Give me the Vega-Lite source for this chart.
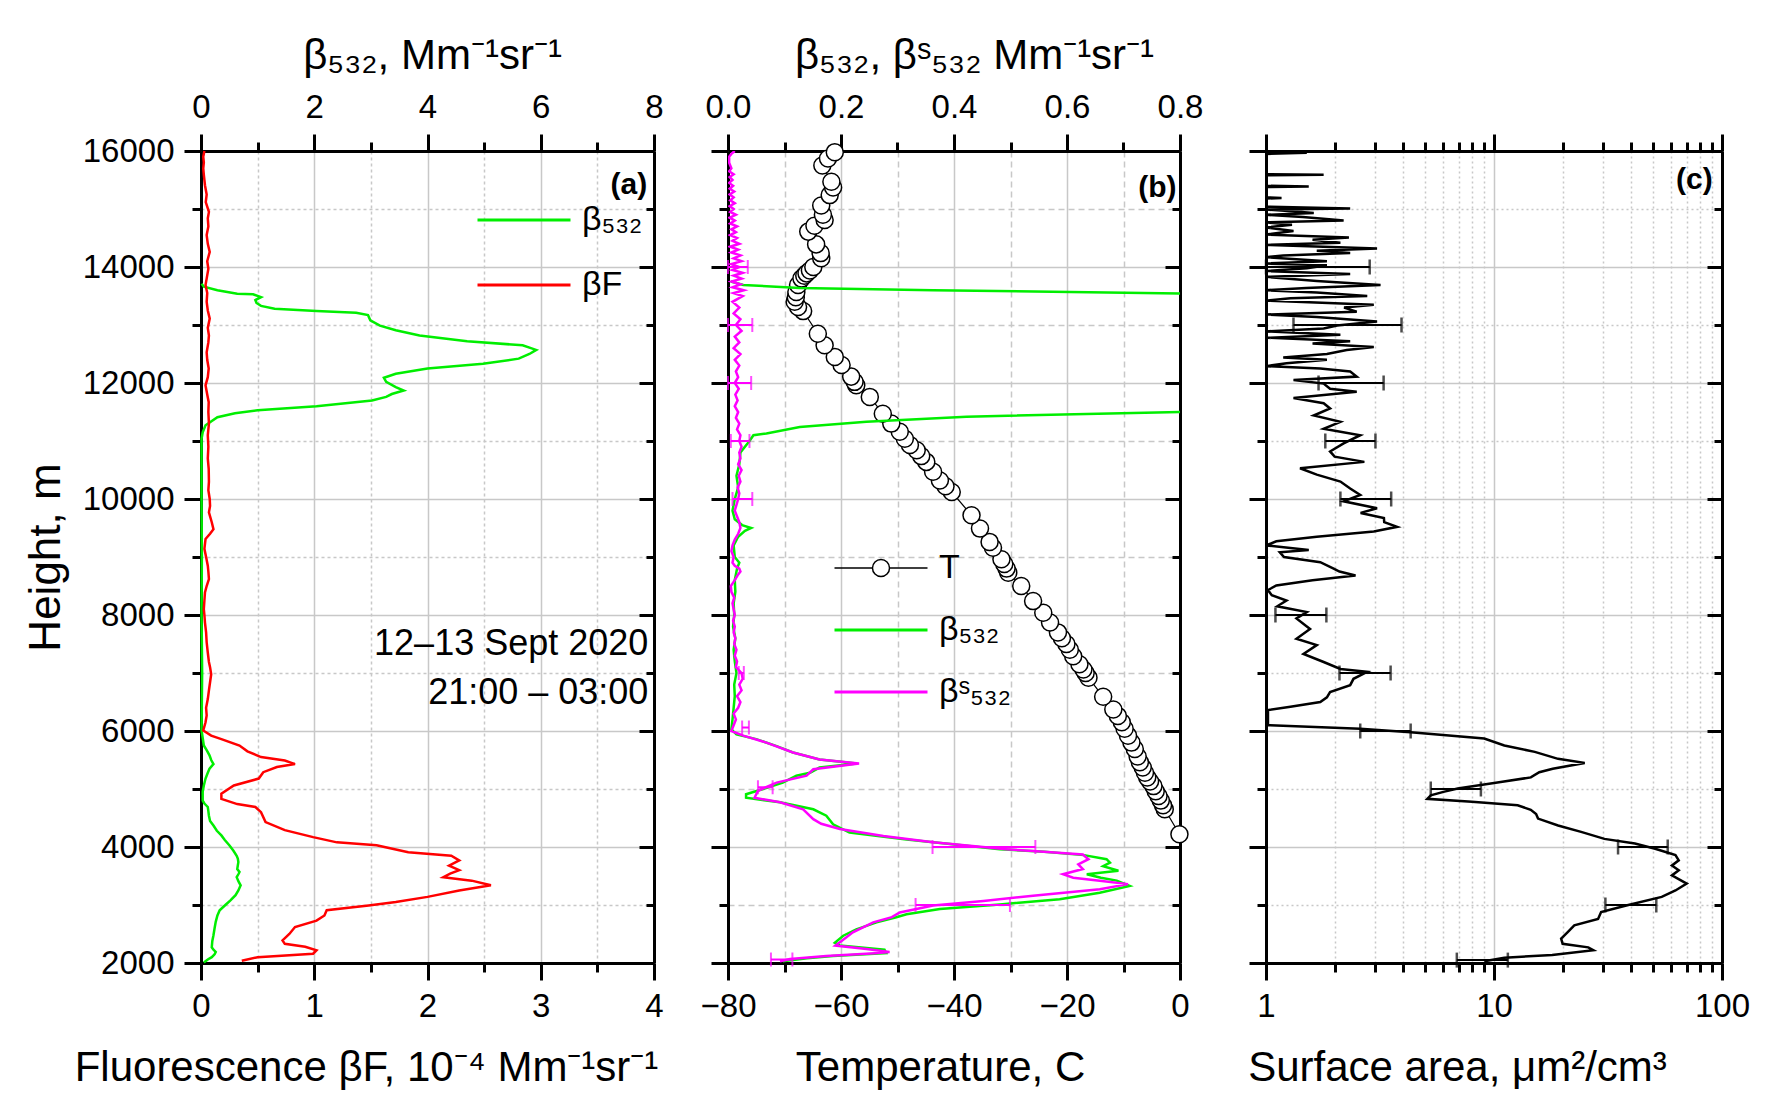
{
  "$schema": "https://vega.github.io/schema/vega-lite/v6.json",
  "background": "white",
  "padding": {"left": 24, "top": 34, "right": 10, "bottom": 5},
  "config": {
    "font": "Liberation Sans",
    "view": {"stroke": null},
    "axis": {
      "domainColor": "black", "domainWidth": 3, "tickColor": "black", "tickWidth": 3,
      "labelFont": "Liberation Sans", "labelFontSize": 33, "labelColor": "black",
      "labelFlush": false, "labelOverlap": false, "labelPadding": 10,
      "titleFont": "Liberation Sans", "titleFontSize": 42, "titleFontWeight": "normal", "titleColor": "black",
      "gridColor": "#c8c8c8", "gridWidth": 1.5
    },
    "legend": {"labelFont": "Liberation Sans", "labelFontSize": 34, "labelColor": "black"}
  },
  "datasets": {
    "a_green": [
      {"h": 2010, "v": 0.05}, {"h": 2060, "v": 0.12}, {"h": 2100, "v": 0.19}, {"h": 2150, "v": 0.24}, {"h": 2190, "v": 0.26},
      {"h": 2230, "v": 0.22}, {"h": 2270, "v": 0.19}, {"h": 2380, "v": 0.2}, {"h": 2480, "v": 0.22}, {"h": 2600, "v": 0.24},
      {"h": 2710, "v": 0.26}, {"h": 2820, "v": 0.29}, {"h": 2910, "v": 0.33}, {"h": 3000, "v": 0.43}, {"h": 3080, "v": 0.52},
      {"h": 3170, "v": 0.61}, {"h": 3250, "v": 0.66}, {"h": 3340, "v": 0.7}, {"h": 3410, "v": 0.66}, {"h": 3480, "v": 0.63},
      {"h": 3530, "v": 0.66}, {"h": 3570, "v": 0.68}, {"h": 3620, "v": 0.64}, {"h": 3680, "v": 0.65}, {"h": 3740, "v": 0.66},
      {"h": 3800, "v": 0.65}, {"h": 3850, "v": 0.63}, {"h": 3940, "v": 0.57}, {"h": 4030, "v": 0.5}, {"h": 4120, "v": 0.42},
      {"h": 4200, "v": 0.36}, {"h": 4280, "v": 0.28}, {"h": 4370, "v": 0.22}, {"h": 4450, "v": 0.16}, {"h": 4540, "v": 0.14},
      {"h": 4620, "v": 0.13}, {"h": 4690, "v": 0.12}, {"h": 4750, "v": 0.06}, {"h": 4800, "v": 0.03}, {"h": 4950, "v": 0.03},
      {"h": 5060, "v": 0.05}, {"h": 5180, "v": 0.08}, {"h": 5280, "v": 0.12}, {"h": 5350, "v": 0.15}, {"h": 5430, "v": 0.22},
      {"h": 5500, "v": 0.18}, {"h": 5580, "v": 0.15}, {"h": 5670, "v": 0.1}, {"h": 5750, "v": 0.05}, {"h": 5880, "v": 0.03},
      {"h": 6010, "v": 0.01}, {"h": 7000, "v": 0.02}, {"h": 8000, "v": 0.01}, {"h": 9000, "v": 0.015}, {"h": 10000, "v": 0.01},
      {"h": 11040, "v": 0.01}, {"h": 11150, "v": 0.03}, {"h": 11270, "v": 0.08}, {"h": 11410, "v": 0.29}, {"h": 11480, "v": 0.6},
      {"h": 11530, "v": 1.0}, {"h": 11600, "v": 2.04}, {"h": 11700, "v": 3.02}, {"h": 11760, "v": 3.27}, {"h": 11810, "v": 3.37},
      {"h": 11870, "v": 3.58}, {"h": 11930, "v": 3.44}, {"h": 12020, "v": 3.27}, {"h": 12090, "v": 3.23}, {"h": 12160, "v": 3.44},
      {"h": 12250, "v": 4.0}, {"h": 12330, "v": 4.98}, {"h": 12420, "v": 5.61}, {"h": 12500, "v": 5.8}, {"h": 12570, "v": 5.92},
      {"h": 12650, "v": 5.68}, {"h": 12720, "v": 4.7}, {"h": 12820, "v": 3.86}, {"h": 12910, "v": 3.44}, {"h": 12990, "v": 3.16},
      {"h": 13080, "v": 2.99}, {"h": 13170, "v": 2.95}, {"h": 13210, "v": 2.74}, {"h": 13240, "v": 2.04}, {"h": 13280, "v": 1.3},
      {"h": 13330, "v": 1.06}, {"h": 13380, "v": 0.98}, {"h": 13430, "v": 0.96}, {"h": 13480, "v": 1.06}, {"h": 13530, "v": 0.92},
      {"h": 13540, "v": 0.64}, {"h": 13600, "v": 0.29}, {"h": 13660, "v": 0.05}, {"h": 13710, "v": 0.01}
    ],
    "a_red": [
      {"h": 2040, "v": 0.36}, {"h": 2100, "v": 0.5}, {"h": 2160, "v": 0.99}, {"h": 2220, "v": 1.02}, {"h": 2280, "v": 0.92},
      {"h": 2330, "v": 0.74}, {"h": 2390, "v": 0.72}, {"h": 2500, "v": 0.78}, {"h": 2620, "v": 0.83}, {"h": 2730, "v": 1.02},
      {"h": 2820, "v": 1.09}, {"h": 2910, "v": 1.11}, {"h": 2990, "v": 1.48}, {"h": 3050, "v": 1.72}, {"h": 3140, "v": 2.0},
      {"h": 3250, "v": 2.28}, {"h": 3340, "v": 2.56}, {"h": 3420, "v": 2.39}, {"h": 3480, "v": 2.14}, {"h": 3540, "v": 2.2},
      {"h": 3600, "v": 2.28}, {"h": 3680, "v": 2.19}, {"h": 3770, "v": 2.28}, {"h": 3850, "v": 2.21}, {"h": 3910, "v": 1.83},
      {"h": 4000, "v": 1.62}, {"h": 4030, "v": 1.55}, {"h": 4080, "v": 1.2}, {"h": 4170, "v": 0.99}, {"h": 4290, "v": 0.74},
      {"h": 4430, "v": 0.57}, {"h": 4600, "v": 0.53}, {"h": 4690, "v": 0.48}, {"h": 4740, "v": 0.32}, {"h": 4830, "v": 0.18},
      {"h": 4920, "v": 0.18}, {"h": 5060, "v": 0.29}, {"h": 5180, "v": 0.51}, {"h": 5290, "v": 0.55}, {"h": 5380, "v": 0.67},
      {"h": 5430, "v": 0.83}, {"h": 5490, "v": 0.74}, {"h": 5550, "v": 0.53}, {"h": 5650, "v": 0.41}, {"h": 5750, "v": 0.34},
      {"h": 5860, "v": 0.18}, {"h": 5920, "v": 0.09}, {"h": 6010, "v": 0.02}, {"h": 6150, "v": 0.04}, {"h": 6270, "v": 0.05},
      {"h": 6400, "v": 0.045}, {"h": 6550, "v": 0.06}, {"h": 6700, "v": 0.07}, {"h": 6840, "v": 0.08}, {"h": 6980, "v": 0.09},
      {"h": 7100, "v": 0.08}, {"h": 7190, "v": 0.07}, {"h": 7350, "v": 0.06}, {"h": 7530, "v": 0.05}, {"h": 7700, "v": 0.045},
      {"h": 7870, "v": 0.035}, {"h": 8000, "v": 0.03}, {"h": 8100, "v": 0.025}, {"h": 8250, "v": 0.03}, {"h": 8390, "v": 0.035},
      {"h": 8500, "v": 0.05}, {"h": 8620, "v": 0.07}, {"h": 8750, "v": 0.065}, {"h": 8850, "v": 0.06}, {"h": 9000, "v": 0.045},
      {"h": 9140, "v": 0.03}, {"h": 9310, "v": 0.04}, {"h": 9400, "v": 0.08}, {"h": 9480, "v": 0.11}, {"h": 9600, "v": 0.095},
      {"h": 9770, "v": 0.07}, {"h": 9880, "v": 0.08}, {"h": 10000, "v": 0.077}, {"h": 10150, "v": 0.065}, {"h": 10300, "v": 0.07},
      {"h": 10520, "v": 0.068}, {"h": 10700, "v": 0.06}, {"h": 10900, "v": 0.065}, {"h": 11100, "v": 0.06}, {"h": 11300, "v": 0.07},
      {"h": 11500, "v": 0.065}, {"h": 11670, "v": 0.068}, {"h": 11800, "v": 0.055}, {"h": 11960, "v": 0.04}, {"h": 12100, "v": 0.06},
      {"h": 12250, "v": 0.068}, {"h": 12400, "v": 0.055}, {"h": 12530, "v": 0.05}, {"h": 12700, "v": 0.065}, {"h": 12820, "v": 0.07},
      {"h": 12950, "v": 0.06}, {"h": 13110, "v": 0.077}, {"h": 13250, "v": 0.06}, {"h": 13400, "v": 0.05}, {"h": 13550, "v": 0.055},
      {"h": 13690, "v": 0.04}, {"h": 13800, "v": 0.05}, {"h": 13970, "v": 0.065}, {"h": 14100, "v": 0.055}, {"h": 14260, "v": 0.077},
      {"h": 14400, "v": 0.06}, {"h": 14550, "v": 0.05}, {"h": 14700, "v": 0.065}, {"h": 14840, "v": 0.06}, {"h": 14950, "v": 0.07},
      {"h": 15120, "v": 0.042}, {"h": 15250, "v": 0.05}, {"h": 15410, "v": 0.035}, {"h": 15500, "v": 0.03}, {"h": 15590, "v": 0.025},
      {"h": 15700, "v": 0.02}, {"h": 15800, "v": 0.025}, {"h": 15900, "v": 0.02}, {"h": 16000, "v": 0.03}
    ],
    "b_T": [
      {"h": 4220, "v": -0.1}, {"h": 4650, "v": -2.7}, {"h": 4720, "v": -3.0}, {"h": 4800, "v": -3.4}, {"h": 4880, "v": -3.8},
      {"h": 4960, "v": -4.3}, {"h": 5050, "v": -4.7}, {"h": 5130, "v": -5.3}, {"h": 5200, "v": -5.8}, {"h": 5280, "v": -6.2},
      {"h": 5370, "v": -6.6}, {"h": 5460, "v": -7.1}, {"h": 5560, "v": -7.5}, {"h": 5690, "v": -8.0}, {"h": 5800, "v": -8.6},
      {"h": 5920, "v": -9.2}, {"h": 6040, "v": -9.8}, {"h": 6150, "v": -10.3}, {"h": 6260, "v": -11.0}, {"h": 6370, "v": -11.8},
      {"h": 6590, "v": -13.6}, {"h": 6920, "v": -16.2}, {"h": 7000, "v": -16.7}, {"h": 7060, "v": -17.1}, {"h": 7150, "v": -17.8},
      {"h": 7290, "v": -18.9}, {"h": 7400, "v": -19.5}, {"h": 7500, "v": -20.1}, {"h": 7600, "v": -20.9}, {"h": 7700, "v": -21.6},
      {"h": 7870, "v": -23.0}, {"h": 8040, "v": -24.2}, {"h": 8240, "v": -26.0}, {"h": 8500, "v": -28.1}, {"h": 8730, "v": -30.4},
      {"h": 8800, "v": -30.7}, {"h": 8880, "v": -31.1}, {"h": 8960, "v": -31.6}, {"h": 9160, "v": -33.1}, {"h": 9260, "v": -33.7},
      {"h": 9490, "v": -35.4}, {"h": 9720, "v": -36.9}, {"h": 10120, "v": -40.4}, {"h": 10220, "v": -41.5}, {"h": 10320, "v": -42.5},
      {"h": 10470, "v": -43.7}, {"h": 10640, "v": -44.9}, {"h": 10740, "v": -45.8}, {"h": 10840, "v": -46.6}, {"h": 10930, "v": -47.8},
      {"h": 11040, "v": -48.7}, {"h": 11160, "v": -49.6}, {"h": 11300, "v": -51.1}, {"h": 11470, "v": -52.6}, {"h": 11760, "v": -54.9},
      {"h": 11960, "v": -57.3}, {"h": 12020, "v": -57.6}, {"h": 12110, "v": -58.2}, {"h": 12310, "v": -59.9}, {"h": 12450, "v": -61.1},
      {"h": 12650, "v": -62.9}, {"h": 12850, "v": -64.1}, {"h": 13240, "v": -66.7}, {"h": 13310, "v": -67.6}, {"h": 13400, "v": -68.2},
      {"h": 13480, "v": -68.0}, {"h": 13570, "v": -67.9}, {"h": 13690, "v": -67.6}, {"h": 13800, "v": -67.0}, {"h": 13850, "v": -66.5},
      {"h": 13890, "v": -66.1}, {"h": 13940, "v": -65.5}, {"h": 14000, "v": -64.9}, {"h": 14150, "v": -63.5}, {"h": 14240, "v": -63.6},
      {"h": 14390, "v": -64.4}, {"h": 14610, "v": -65.8}, {"h": 14710, "v": -64.7}, {"h": 14810, "v": -62.9}, {"h": 14900, "v": -63.2},
      {"h": 15060, "v": -63.5}, {"h": 15240, "v": -62.0}, {"h": 15370, "v": -61.4}, {"h": 15470, "v": -61.7}, {"h": 15750, "v": -63.3},
      {"h": 15870, "v": -62.3}, {"h": 15980, "v": -61.1}
    ],
    "b_green": [
      {"h": 2030, "v": 0.097}, {"h": 2080, "v": 0.14}, {"h": 2120, "v": 0.186}, {"h": 2170, "v": 0.28}, {"h": 2230, "v": 0.277},
      {"h": 2300, "v": 0.198}, {"h": 2350, "v": 0.189}, {"h": 2470, "v": 0.204}, {"h": 2580, "v": 0.227}, {"h": 2700, "v": 0.263},
      {"h": 2790, "v": 0.298}, {"h": 2840, "v": 0.316}, {"h": 2930, "v": 0.375}, {"h": 3010, "v": 0.481}, {"h": 3100, "v": 0.587},
      {"h": 3210, "v": 0.658}, {"h": 3330, "v": 0.711}, {"h": 3420, "v": 0.688}, {"h": 3470, "v": 0.66}, {"h": 3530, "v": 0.635},
      {"h": 3590, "v": 0.691}, {"h": 3670, "v": 0.664}, {"h": 3730, "v": 0.676}, {"h": 3790, "v": 0.67}, {"h": 3860, "v": 0.63},
      {"h": 3920, "v": 0.56}, {"h": 3960, "v": 0.481}, {"h": 4050, "v": 0.393}, {"h": 4130, "v": 0.316}, {"h": 4250, "v": 0.215},
      {"h": 4390, "v": 0.186}, {"h": 4540, "v": 0.174}, {"h": 4650, "v": 0.151}, {"h": 4770, "v": 0.092}, {"h": 4850, "v": 0.032},
      {"h": 4910, "v": 0.032}, {"h": 5000, "v": 0.062}, {"h": 5110, "v": 0.097}, {"h": 5230, "v": 0.121}, {"h": 5280, "v": 0.145},
      {"h": 5370, "v": 0.162}, {"h": 5440, "v": 0.228}, {"h": 5510, "v": 0.162}, {"h": 5630, "v": 0.115}, {"h": 5740, "v": 0.086},
      {"h": 5860, "v": 0.05}, {"h": 5940, "v": 0.015}, {"h": 6030, "v": 0.006}, {"h": 6200, "v": 0.008}, {"h": 6400, "v": 0.01},
      {"h": 6600, "v": 0.012}, {"h": 6800, "v": 0.011}, {"h": 7000, "v": 0.015}, {"h": 7200, "v": 0.012}, {"h": 7400, "v": 0.01},
      {"h": 7600, "v": 0.013}, {"h": 7800, "v": 0.009}, {"h": 8000, "v": 0.011}, {"h": 8200, "v": 0.01}, {"h": 8400, "v": 0.013},
      {"h": 8600, "v": 0.012}, {"h": 8800, "v": 0.016}, {"h": 8900, "v": 0.02}, {"h": 9000, "v": 0.012}, {"h": 9200, "v": 0.01},
      {"h": 9350, "v": 0.018}, {"h": 9450, "v": 0.03}, {"h": 9500, "v": 0.041}, {"h": 9550, "v": 0.025}, {"h": 9650, "v": 0.012},
      {"h": 9800, "v": 0.008}, {"h": 10000, "v": 0.012}, {"h": 10200, "v": 0.018}, {"h": 10400, "v": 0.015}, {"h": 10600, "v": 0.02},
      {"h": 10800, "v": 0.022}, {"h": 10900, "v": 0.03}, {"h": 11000, "v": 0.038}, {"h": 11100, "v": 0.045}, {"h": 11130, "v": 0.068},
      {"h": 11240, "v": 0.127}, {"h": 11330, "v": 0.245}, {"h": 11420, "v": 0.422}, {"h": 11500, "v": 0.8}, {"h": 11530, "v": 1.0},
      {"h": 11600, "v": 2.04}, {"h": 11700, "v": 3.02}, {"h": 11870, "v": 3.58}, {"h": 12090, "v": 3.23}, {"h": 12330, "v": 4.98},
      {"h": 12570, "v": 5.92}, {"h": 12820, "v": 3.86}, {"h": 13080, "v": 2.99}, {"h": 13240, "v": 2.04}, {"h": 13430, "v": 0.96},
      {"h": 13500, "v": 0.9}, {"h": 13545, "v": 0.8}, {"h": 13600, "v": 0.363}, {"h": 13640, "v": 0.127}, {"h": 13690, "v": 0.027},
      {"h": 13750, "v": 0.005}
    ],
    "b_mag": [
      {"h": 2030, "v": 0.092}, {"h": 2070, "v": 0.11}, {"h": 2120, "v": 0.174}, {"h": 2170, "v": 0.26}, {"h": 2190, "v": 0.286},
      {"h": 2240, "v": 0.245}, {"h": 2300, "v": 0.19}, {"h": 2380, "v": 0.201}, {"h": 2530, "v": 0.221}, {"h": 2700, "v": 0.257},
      {"h": 2790, "v": 0.29}, {"h": 2870, "v": 0.304}, {"h": 2990, "v": 0.363}, {"h": 3070, "v": 0.452}, {"h": 3160, "v": 0.54},
      {"h": 3270, "v": 0.658}, {"h": 3360, "v": 0.708}, {"h": 3420, "v": 0.658}, {"h": 3470, "v": 0.611}, {"h": 3530, "v": 0.593},
      {"h": 3620, "v": 0.628}, {"h": 3700, "v": 0.62}, {"h": 3790, "v": 0.638}, {"h": 3870, "v": 0.628}, {"h": 3930, "v": 0.54},
      {"h": 3960, "v": 0.493}, {"h": 4080, "v": 0.363}, {"h": 4190, "v": 0.275}, {"h": 4310, "v": 0.198}, {"h": 4400, "v": 0.165},
      {"h": 4480, "v": 0.151}, {"h": 4650, "v": 0.133}, {"h": 4770, "v": 0.092}, {"h": 4850, "v": 0.047}, {"h": 4970, "v": 0.053},
      {"h": 5110, "v": 0.086}, {"h": 5230, "v": 0.139}, {"h": 5340, "v": 0.151}, {"h": 5440, "v": 0.232}, {"h": 5510, "v": 0.162},
      {"h": 5630, "v": 0.115}, {"h": 5800, "v": 0.068}, {"h": 5920, "v": 0.027}, {"h": 6000, "v": 0.006}, {"h": 6100, "v": 0.01},
      {"h": 6200, "v": 0.014}, {"h": 6300, "v": 0.01}, {"h": 6400, "v": 0.018}, {"h": 6500, "v": 0.022}, {"h": 6600, "v": 0.016},
      {"h": 6700, "v": 0.024}, {"h": 6800, "v": 0.02}, {"h": 6900, "v": 0.026}, {"h": 7000, "v": 0.024}, {"h": 7100, "v": 0.014},
      {"h": 7200, "v": 0.016}, {"h": 7300, "v": 0.012}, {"h": 7400, "v": 0.015}, {"h": 7500, "v": 0.011}, {"h": 7600, "v": 0.013},
      {"h": 7700, "v": 0.01}, {"h": 7800, "v": 0.012}, {"h": 7900, "v": 0.009}, {"h": 8000, "v": 0.012}, {"h": 8100, "v": 0.01},
      {"h": 8200, "v": 0.008}, {"h": 8300, "v": 0.011}, {"h": 8400, "v": 0.006}, {"h": 8500, "v": 0.005}, {"h": 8600, "v": 0.012},
      {"h": 8700, "v": 0.018}, {"h": 8750, "v": 0.022}, {"h": 8800, "v": 0.02}, {"h": 8850, "v": 0.012}, {"h": 8900, "v": 0.008},
      {"h": 9000, "v": 0.01}, {"h": 9100, "v": 0.006}, {"h": 9200, "v": 0.008}, {"h": 9300, "v": 0.012}, {"h": 9400, "v": 0.018},
      {"h": 9500, "v": 0.022}, {"h": 9600, "v": 0.02}, {"h": 9700, "v": 0.016}, {"h": 9800, "v": 0.012}, {"h": 9900, "v": 0.015},
      {"h": 10000, "v": 0.018}, {"h": 10100, "v": 0.02}, {"h": 10200, "v": 0.017}, {"h": 10300, "v": 0.022}, {"h": 10400, "v": 0.019},
      {"h": 10500, "v": 0.024}, {"h": 10600, "v": 0.018}, {"h": 10700, "v": 0.022}, {"h": 10800, "v": 0.02}, {"h": 10900, "v": 0.024},
      {"h": 11000, "v": 0.02}, {"h": 11100, "v": 0.022}, {"h": 11200, "v": 0.016}, {"h": 11300, "v": 0.02}, {"h": 11400, "v": 0.014},
      {"h": 11500, "v": 0.018}, {"h": 11600, "v": 0.012}, {"h": 11700, "v": 0.017}, {"h": 11800, "v": 0.013}, {"h": 11900, "v": 0.019},
      {"h": 12000, "v": 0.012}, {"h": 12100, "v": 0.018}, {"h": 12200, "v": 0.014}, {"h": 12300, "v": 0.02}, {"h": 12400, "v": 0.012},
      {"h": 12500, "v": 0.022}, {"h": 12600, "v": 0.01}, {"h": 12700, "v": 0.02}, {"h": 12800, "v": 0.012}, {"h": 12900, "v": 0.024},
      {"h": 13000, "v": 0.014}, {"h": 13100, "v": 0.022}, {"h": 13200, "v": 0.01}, {"h": 13300, "v": 0.02}, {"h": 13400, "v": 0.008},
      {"h": 13500, "v": 0.026}, {"h": 13550, "v": 0.01}, {"h": 13600, "v": 0.028}, {"h": 13650, "v": 0.008}, {"h": 13700, "v": 0.022},
      {"h": 13750, "v": 0.006}, {"h": 13800, "v": 0.024}, {"h": 13850, "v": 0.01}, {"h": 13900, "v": 0.026}, {"h": 13950, "v": 0.008},
      {"h": 14000, "v": 0.02}, {"h": 14050, "v": 0.006}, {"h": 14100, "v": 0.024}, {"h": 14150, "v": 0.01}, {"h": 14200, "v": 0.022},
      {"h": 14250, "v": 0.006}, {"h": 14300, "v": 0.018}, {"h": 14350, "v": 0.004}, {"h": 14400, "v": 0.02}, {"h": 14450, "v": 0.008},
      {"h": 14500, "v": 0.016}, {"h": 14550, "v": 0.004}, {"h": 14600, "v": 0.014}, {"h": 14650, "v": 0.006}, {"h": 14700, "v": 0.016},
      {"h": 14750, "v": 0.004}, {"h": 14800, "v": 0.012}, {"h": 14850, "v": 0.003}, {"h": 14900, "v": 0.014}, {"h": 14950, "v": 0.004},
      {"h": 15000, "v": 0.01}, {"h": 15050, "v": 0.003}, {"h": 15100, "v": 0.012}, {"h": 15150, "v": 0.004}, {"h": 15200, "v": 0.01},
      {"h": 15250, "v": 0.003}, {"h": 15300, "v": 0.011}, {"h": 15350, "v": 0.003}, {"h": 15400, "v": 0.009}, {"h": 15450, "v": 0.002},
      {"h": 15500, "v": 0.008}, {"h": 15550, "v": 0.003}, {"h": 15600, "v": 0.01}, {"h": 15650, "v": 0.002}, {"h": 15700, "v": 0.006},
      {"h": 15800, "v": 0.002}, {"h": 15900, "v": 0.002}, {"h": 15950, "v": 0.006}, {"h": 16000, "v": 0.012}
    ],
    "b_err": [
      {"h": 14000, "lo": 0.0, "hi": 0.035}, {"h": 13000, "lo": 0.0, "hi": 0.043}, {"h": 12000, "lo": 0.0, "hi": 0.041},
      {"h": 11000, "lo": 0.005, "hi": 0.038}, {"h": 10000, "lo": 0.008, "hi": 0.043}, {"h": 7000, "lo": 0.019, "hi": 0.028},
      {"h": 6060, "lo": 0.025, "hi": 0.037}, {"h": 5030, "lo": 0.053, "hi": 0.079}, {"h": 4000, "lo": 0.362, "hi": 0.544},
      {"h": 3000, "lo": 0.332, "hi": 0.499}, {"h": 2060, "lo": 0.076, "hi": 0.114}
    ],
    "c_area": [
      {"h": 2030, "v": 9.06}, {"h": 2090, "v": 11.1}, {"h": 2140, "v": 18.0}, {"h": 2220, "v": 27.3}, {"h": 2270, "v": 25.9},
      {"h": 2330, "v": 20.0}, {"h": 2420, "v": 19.7}, {"h": 2530, "v": 21.0}, {"h": 2650, "v": 22.5}, {"h": 2760, "v": 28.6},
      {"h": 2880, "v": 29.5}, {"h": 3000, "v": 38.8}, {"h": 3140, "v": 54.4}, {"h": 3250, "v": 62.5}, {"h": 3370, "v": 70},
      {"h": 3510, "v": 60.3}, {"h": 3600, "v": 64.6}, {"h": 3680, "v": 60.3}, {"h": 3770, "v": 64.6}, {"h": 3860, "v": 62.5},
      {"h": 3970, "v": 50.9}, {"h": 4060, "v": 41.5}, {"h": 4140, "v": 30.5}, {"h": 4260, "v": 24.1}, {"h": 4370, "v": 19.1},
      {"h": 4490, "v": 15.6}, {"h": 4570, "v": 15.3}, {"h": 4640, "v": 14.5}, {"h": 4720, "v": 12.7}, {"h": 4780, "v": 8.0},
      {"h": 4830, "v": 5.1}, {"h": 4890, "v": 5.28}, {"h": 4950, "v": 6.0}, {"h": 5010, "v": 6.93}, {"h": 5120, "v": 10.7},
      {"h": 5200, "v": 14.5}, {"h": 5290, "v": 15.8}, {"h": 5350, "v": 18.1}, {"h": 5450, "v": 25.0}, {"h": 5520, "v": 19.1},
      {"h": 5640, "v": 15.1}, {"h": 5750, "v": 11.1}, {"h": 5870, "v": 9.06}, {"h": 5980, "v": 4.31}, {"h": 6040, "v": 2.59},
      {"h": 6100, "v": 1.02}, {"h": 6360, "v": 1.02}, {"h": 6420, "v": 1.28}, {"h": 6500, "v": 1.73}, {"h": 6580, "v": 1.85},
      {"h": 6670, "v": 1.91}, {"h": 6790, "v": 2.34}, {"h": 6900, "v": 2.42}, {"h": 7020, "v": 2.78}, {"h": 7070, "v": 2.12},
      {"h": 7190, "v": 1.79}, {"h": 7330, "v": 1.46}, {"h": 7480, "v": 1.67}, {"h": 7590, "v": 1.36}, {"h": 7760, "v": 1.56},
      {"h": 7940, "v": 1.36}, {"h": 8050, "v": 1.51}, {"h": 8150, "v": 1.12}, {"h": 8250, "v": 1.23}, {"h": 8340, "v": 1.06},
      {"h": 8430, "v": 1.02}, {"h": 8510, "v": 1.11}, {"h": 8600, "v": 1.6}, {"h": 8680, "v": 2.47}, {"h": 8750, "v": 2.1},
      {"h": 8800, "v": 1.98}, {"h": 8910, "v": 1.73}, {"h": 9000, "v": 1.2}, {"h": 9080, "v": 1.15}, {"h": 9120, "v": 1.54},
      {"h": 9200, "v": 1.0}, {"h": 9270, "v": 1.11}, {"h": 9350, "v": 1.67}, {"h": 9440, "v": 2.97}, {"h": 9520, "v": 3.76},
      {"h": 9600, "v": 3.3}, {"h": 9670, "v": 3.29}, {"h": 9760, "v": 2.6}, {"h": 9840, "v": 3.07}, {"h": 9960, "v": 2.19},
      {"h": 10070, "v": 2.59}, {"h": 10180, "v": 2.34}, {"h": 10300, "v": 2.12}, {"h": 10420, "v": 1.67}, {"h": 10530, "v": 1.41},
      {"h": 10640, "v": 2.7}, {"h": 10730, "v": 2.0}, {"h": 10820, "v": 1.91}, {"h": 10960, "v": 2.19}, {"h": 11100, "v": 2.59},
      {"h": 11210, "v": 1.79}, {"h": 11330, "v": 2.12}, {"h": 11440, "v": 1.62}, {"h": 11560, "v": 1.91}, {"h": 11650, "v": 1.79},
      {"h": 11740, "v": 1.32}, {"h": 11850, "v": 2.5}, {"h": 11900, "v": 1.91}, {"h": 11990, "v": 1.79}, {"h": 12050, "v": 1.32},
      {"h": 12110, "v": 2.5}, {"h": 12200, "v": 2.34}, {"h": 12250, "v": 1.73}, {"h": 12290, "v": 1.0}, {"h": 12340, "v": 1.23},
      {"h": 12400, "v": 1.85}, {"h": 12440, "v": 1.19}, {"h": 12500, "v": 1.85}, {"h": 12570, "v": 2.26}, {"h": 12620, "v": 2.97},
      {"h": 12680, "v": 1.6}, {"h": 12720, "v": 2.34}, {"h": 12780, "v": 1.02}, {"h": 12830, "v": 2.12}, {"h": 12890, "v": 1.0},
      {"h": 12940, "v": 1.79}, {"h": 12990, "v": 2.05}, {"h": 13060, "v": 3.07}, {"h": 13140, "v": 1.67}, {"h": 13180, "v": 1.0},
      {"h": 13230, "v": 2.5}, {"h": 13300, "v": 2.2}, {"h": 13350, "v": 2.97}, {"h": 13420, "v": 1.0}, {"h": 13460, "v": 1.28},
      {"h": 13500, "v": 2.78}, {"h": 13560, "v": 1.67}, {"h": 13600, "v": 1.0}, {"h": 13640, "v": 1.5}, {"h": 13690, "v": 3.18},
      {"h": 13760, "v": 1.67}, {"h": 13830, "v": 1.0}, {"h": 13880, "v": 2.34}, {"h": 13930, "v": 1.0}, {"h": 13980, "v": 1.51},
      {"h": 14030, "v": 1.85}, {"h": 14060, "v": 1.0}, {"h": 14100, "v": 1.85}, {"h": 14170, "v": 1.0}, {"h": 14200, "v": 1.19},
      {"h": 14240, "v": 2.34}, {"h": 14280, "v": 1.67}, {"h": 14320, "v": 3.07}, {"h": 14380, "v": 1.0}, {"h": 14420, "v": 2.12},
      {"h": 14470, "v": 1.6}, {"h": 14510, "v": 2.31}, {"h": 14560, "v": 1.0}, {"h": 14620, "v": 1.32}, {"h": 14680, "v": 1.0},
      {"h": 14730, "v": 1.3}, {"h": 14770, "v": 1.0}, {"h": 14800, "v": 2.19}, {"h": 14860, "v": 1.45}, {"h": 14900, "v": 1.0},
      {"h": 14930, "v": 1.62}, {"h": 14960, "v": 1.3}, {"h": 14990, "v": 1.0}, {"h": 15010, "v": 2.34}, {"h": 15040, "v": 1.0},
      {"h": 15180, "v": 1.0}, {"h": 15190, "v": 1.17}, {"h": 15200, "v": 1.0}, {"h": 15380, "v": 1.0}, {"h": 15390, "v": 1.54},
      {"h": 15400, "v": 1.0}, {"h": 15580, "v": 1.0}, {"h": 15590, "v": 1.79}, {"h": 15600, "v": 1.0}, {"h": 15950, "v": 1.0},
      {"h": 15970, "v": 1.51}, {"h": 16000, "v": 1.0}
    ],
    "c_err": [
      {"h": 14000, "lo": 1.0, "hi": 2.85}, {"h": 13000, "lo": 1.32, "hi": 3.93}, {"h": 12000, "lo": 1.7, "hi": 3.28},
      {"h": 11000, "lo": 1.82, "hi": 3.02}, {"h": 10000, "lo": 2.12, "hi": 3.54}, {"h": 8000, "lo": 1.1, "hi": 1.84},
      {"h": 7000, "lo": 2.1, "hi": 3.52}, {"h": 6000, "lo": 2.59, "hi": 4.31}, {"h": 5000, "lo": 5.28, "hi": 8.76},
      {"h": 4000, "lo": 35.0, "hi": 57.8}, {"h": 3000, "lo": 30.8, "hi": 51.5}, {"h": 2050, "lo": 6.87, "hi": 11.5}
    ]
  },
  "hconcat": [
    {
      "width": 453,
      "height": 812,
      "layer": [
        {
          "data": {"name": "a_green"},
          "mark": {"type": "line", "strokeWidth": 2.5},
          "encoding": {
            "x": {"field": "v", "type": "quantitative", "scale": {"domain": [0, 8], "nice": false, "zero": false},
              "axis": {"orient": "top", "values": [0, 1, 2, 3, 4, 5, 6, 7, 8], "title": "β₅₃₂, Mm⁻¹sr⁻¹", "titleX": 231, "titlePadding": 14,
                "labelExpr": "datum.value % 2 === 0 ? format(datum.value, 'd') : ''", "grid": false,
                "tickSize": {"condition": {"test": "datum.value % 2 === 0", "value": 17}, "value": 9}}},
            "y": {"field": "h", "type": "quantitative", "scale": {"domain": [2000, 16000], "nice": false, "zero": false},
              "axis": {"orient": "right", "values": [2000, 3000, 4000, 5000, 6000, 7000, 8000, 9000, 10000, 11000, 12000, 13000, 14000, 15000, 16000],
                "labels": false, "title": null, "grid": false,
                "tickSize": {"condition": {"test": "datum.value % 2000 === 0", "value": -15}, "value": -8}}},
            "order": {"field": "h", "type": "quantitative"},
            "color": {"datum": "β₅₃₂", "scale": {"domain": ["β₅₃₂", "βF"], "range": ["#00ee00", "#ff0000"]},
              "legend": {"orient": "none", "legendX": 306, "legendY": 52, "title": null, "padding": 0,
                "symbolType": "M-3,0H3", "symbolSize": 961, "symbolStrokeWidth": 3, "labelOffset": 41, "rowPadding": 31}}
          }
        },
        {
          "data": {"name": "a_red"},
          "mark": {"type": "line", "strokeWidth": 2.5},
          "encoding": {
            "x": {"field": "v", "type": "quantitative", "scale": {"domain": [0, 4], "nice": false, "zero": false},
              "axis": {"orient": "bottom", "values": [0, 0.5, 1, 1.5, 2, 2.5, 3, 3.5, 4], "title": "Fluorescence βF, 10⁻⁴ Mm⁻¹sr⁻¹", "titleX": 165, "titlePadding": 24,
                "labelExpr": "datum.value % 1 === 0 ? format(datum.value, 'd') : ''", "grid": true,
                "gridDash": {"condition": {"test": "datum.value % 1 === 0", "value": []}, "value": [3, 3]},
                "tickSize": {"condition": {"test": "datum.value % 1 === 0", "value": 17}, "value": 9}}},
            "y": {"field": "h", "type": "quantitative", "scale": {"domain": [2000, 16000], "nice": false, "zero": false},
              "axis": {"orient": "left", "values": [2000, 3000, 4000, 5000, 6000, 7000, 8000, 9000, 10000, 11000, 12000, 13000, 14000, 15000, 16000],
                "title": "Height, m", "titlePadding": 14, "titleFontSize": 44,
                "labelExpr": "datum.value % 2000 === 0 ? format(datum.value, 'd') : ''", "grid": true,
                "gridDash": {"condition": {"test": "datum.value % 2000 === 0", "value": []}, "value": [3, 3]},
                "tickSize": {"condition": {"test": "datum.value % 2000 === 0", "value": 17}, "value": 9}}},
            "order": {"field": "h", "type": "quantitative"},
            "color": {"datum": "βF"}
          }
        },
        {
          "data": {"values": [{}]},
          "mark": {"type": "text", "text": ["12–13 Sept 2020", "21:00 – 03:00"], "align": "right", "baseline": "alphabetic", "fontSize": 36, "lineHeight": 49, "color": "black"},
          "encoding": {
            "x": {"datum": 3.95, "type": "quantitative", "scale": {"domain": [0, 4], "nice": false, "zero": false}, "axis": null},
            "y": {"datum": 7311, "type": "quantitative", "scale": {"domain": [2000, 16000], "nice": false, "zero": false}, "axis": null}
          }
        },
        {
          "data": {"values": [{}]},
          "mark": {"type": "text", "text": "(a)", "align": "right", "baseline": "alphabetic", "fontSize": 30, "fontWeight": "bold", "color": "black"},
          "encoding": {
            "x": {"datum": 3.94, "type": "quantitative", "scale": {"domain": [0, 4], "nice": false, "zero": false}, "axis": null},
            "y": {"datum": 15263, "type": "quantitative", "scale": {"domain": [2000, 16000], "nice": false, "zero": false}, "axis": null}
          }
        }
      ],
      "resolve": {"scale": {"x": "independent"}, "axis": {"x": "independent", "y": "independent"}}
    },
    {
      "hconcat": [
        {
          "width": 452,
          "height": 812,
          "layer": [
            {
              "data": {"name": "b_T"},
              "mark": {"type": "line", "strokeWidth": 1.2},
              "encoding": {
                "x": {"field": "v", "type": "quantitative", "scale": {"domain": [-80, 0], "nice": false, "zero": false},
                  "axis": {"orient": "bottom", "values": [-80, -70, -60, -50, -40, -30, -20, -10, 0], "title": "Temperature, C", "titleX": 212, "titlePadding": 24,
                    "labelExpr": "datum.value % 20 === 0 ? format(datum.value, 'd') : ''", "grid": true,
                    "gridDash": {"condition": {"test": "datum.value % 20 === 0", "value": []}, "value": [6, 4]},
                    "tickSize": {"condition": {"test": "datum.value % 20 === 0", "value": 17}, "value": 9}}},
                "y": {"field": "h", "type": "quantitative", "scale": {"domain": [2000, 16000], "nice": false, "zero": false},
                  "axis": {"orient": "left", "values": [2000, 3000, 4000, 5000, 6000, 7000, 8000, 9000, 10000, 11000, 12000, 13000, 14000, 15000, 16000],
                    "labels": false, "title": null, "grid": true,
                    "gridDash": {"condition": {"test": "datum.value % 2000 === 0", "value": []}, "value": [6, 4]},
                    "tickSize": {"condition": {"test": "datum.value % 2000 === 0", "value": 17}, "value": 9}}},
                "order": {"field": "h", "type": "quantitative"},
                "color": {"datum": "T", "scale": {"domain": ["T", "β₅₃₂", "βˢ₅₃₂"], "range": ["black", "#00ee00", "#ff00ff"]},
                  "legend": {"orient": "none", "legendX": 136, "legendY": 400, "title": null, "padding": 0,
                    "symbolType": "M-3,0H3", "symbolSize": 961, "symbolStrokeWidth": 3, "labelOffset": 41, "rowPadding": 28,
                    "encode": {"symbols": {"update": {
                      "shape": {"signal": "datum.value === 'T' ? 'M-3,0H-0.55M0.55,0H3M0.55,0A0.55,0.55,0,1,1,-0.55,0A0.55,0.55,0,1,1,0.55,0' : 'M-3,0H3'"},
                      "fill": {"signal": "datum.value === 'T' ? 'white' : 'transparent'"},
                      "strokeWidth": {"signal": "datum.value === 'T' ? 1.5 : 3"}}}}}}
              }
            },
            {
              "data": {"name": "b_T"},
              "mark": {"type": "point", "shape": "circle", "filled": true, "fill": "white", "stroke": "black", "strokeWidth": 1.5, "size": 290, "opacity": 1},
              "encoding": {
                "x": {"field": "v", "type": "quantitative", "scale": {"domain": [-80, 0], "nice": false, "zero": false}, "axis": null},
                "y": {"field": "h", "type": "quantitative", "scale": {"domain": [2000, 16000], "nice": false, "zero": false}, "axis": null}
              }
            },
            {
              "data": {"name": "b_green"},
              "mark": {"type": "line", "strokeWidth": 2.5, "clip": true},
              "encoding": {
                "x": {"field": "v", "type": "quantitative", "scale": {"domain": [0, 0.8], "nice": false, "zero": false},
                  "axis": {"orient": "top", "values": [0, 0.1, 0.2, 0.3, 0.4, 0.5, 0.6, 0.7, 0.8], "title": "β₅₃₂, βˢ₅₃₂ Mm⁻¹sr⁻¹", "titleX": 246, "titlePadding": 14,
                    "labelExpr": "round(datum.value * 10) % 2 === 0 ? format(datum.value, '.1f') : ''", "grid": false,
                    "tickSize": {"condition": {"test": "round(datum.value * 10) % 2 === 0", "value": 17}, "value": 9}}},
                "y": {"field": "h", "type": "quantitative", "scale": {"domain": [2000, 16000], "nice": false, "zero": false},
                  "axis": {"orient": "right", "values": [2000, 3000, 4000, 5000, 6000, 7000, 8000, 9000, 10000, 11000, 12000, 13000, 14000, 15000, 16000],
                    "labels": false, "title": null, "grid": false,
                    "tickSize": {"condition": {"test": "datum.value % 2000 === 0", "value": -15}, "value": -8}}},
                "order": {"field": "h", "type": "quantitative"},
                "color": {"datum": "β₅₃₂"}
              }
            },
            {
              "data": {"name": "b_mag"},
              "mark": {"type": "line", "strokeWidth": 2.5, "clip": true},
              "encoding": {
                "x": {"field": "v", "type": "quantitative", "scale": {"domain": [0, 0.8], "nice": false, "zero": false}, "axis": null},
                "y": {"field": "h", "type": "quantitative", "scale": {"domain": [2000, 16000], "nice": false, "zero": false}, "axis": null},
                "order": {"field": "h", "type": "quantitative"},
                "color": {"datum": "βˢ₅₃₂"}
              }
            },
            {
              "data": {"name": "b_err"},
              "mark": {"type": "rule", "color": "#ff00ff", "strokeWidth": 2},
              "encoding": {
                "x": {"field": "lo", "type": "quantitative", "scale": {"domain": [0, 0.8], "nice": false, "zero": false}, "axis": null},
                "x2": {"field": "hi"},
                "y": {"field": "h", "type": "quantitative", "scale": {"domain": [2000, 16000], "nice": false, "zero": false}, "axis": null}
              }
            },
            {
              "data": {"name": "b_err"},
              "mark": {"type": "tick", "orient": "vertical", "color": "#ff00ff", "size": 14, "thickness": 2},
              "encoding": {
                "x": {"field": "lo", "type": "quantitative", "scale": {"domain": [0, 0.8], "nice": false, "zero": false}, "axis": null},
                "y": {"field": "h", "type": "quantitative", "scale": {"domain": [2000, 16000], "nice": false, "zero": false}, "axis": null}
              }
            },
            {
              "data": {"name": "b_err"},
              "mark": {"type": "tick", "orient": "vertical", "color": "#ff00ff", "size": 14, "thickness": 2},
              "encoding": {
                "x": {"field": "hi", "type": "quantitative", "scale": {"domain": [0, 0.8], "nice": false, "zero": false}, "axis": null},
                "y": {"field": "h", "type": "quantitative", "scale": {"domain": [2000, 16000], "nice": false, "zero": false}, "axis": null}
              }
            },
            {
              "data": {"values": [{}]},
              "mark": {"type": "text", "text": "(b)", "align": "right", "baseline": "alphabetic", "fontSize": 30, "fontWeight": "bold", "color": "black"},
              "encoding": {
                "x": {"datum": -0.6, "type": "quantitative", "scale": {"domain": [-80, 0], "nice": false, "zero": false}, "axis": null},
                "y": {"datum": 15212, "type": "quantitative", "scale": {"domain": [2000, 16000], "nice": false, "zero": false}, "axis": null}
              }
            }
          ],
          "resolve": {"scale": {"x": "independent"}, "axis": {"x": "independent", "y": "independent"}}
        },
        {
          "width": 456,
          "height": 812,
          "layer": [
            {
              "data": {"name": "c_area"},
              "mark": {"type": "line", "strokeWidth": 2.5, "color": "black", "clip": true},
              "encoding": {
                "x": {"field": "v", "type": "quantitative", "scale": {"type": "log", "domain": [1, 100], "nice": false},
                  "axis": {"orient": "bottom", "values": [1, 2, 3, 4, 5, 6, 7, 8, 9, 10, 20, 30, 40, 50, 60, 70, 80, 90, 100],
                    "title": "Surface area, μm²/cm³", "titleX": 191, "titlePadding": 24,
                    "labelExpr": "(datum.value === 1 || datum.value === 10 || datum.value === 100) ? format(datum.value, 'd') : ''", "grid": true,
                    "gridDash": {"condition": {"test": "datum.value === 1 || datum.value === 10 || datum.value === 100", "value": []}, "value": [2, 3]},
                    "tickSize": {"condition": {"test": "datum.value === 1 || datum.value === 10 || datum.value === 100", "value": 17}, "value": 9}}},
                "y": {"field": "h", "type": "quantitative", "scale": {"domain": [2000, 16000], "nice": false, "zero": false},
                  "axis": {"orient": "left", "values": [2000, 3000, 4000, 5000, 6000, 7000, 8000, 9000, 10000, 11000, 12000, 13000, 14000, 15000, 16000],
                    "labels": false, "title": null, "grid": true,
                    "gridDash": {"condition": {"test": "datum.value % 2000 === 0", "value": []}, "value": [2, 3]},
                    "tickSize": {"condition": {"test": "datum.value % 2000 === 0", "value": 17}, "value": 9}}},
                "order": {"field": "h", "type": "quantitative"}
              }
            },
            {
              "data": {"name": "c_err"},
              "mark": {"type": "rule", "color": "black", "strokeWidth": 2},
              "encoding": {
                "x": {"field": "lo", "type": "quantitative", "scale": {"type": "log", "domain": [1, 100], "nice": false},
                  "axis": {"orient": "top", "values": [1, 2, 3, 4, 5, 6, 7, 8, 9, 10, 20, 30, 40, 50, 60, 70, 80, 90, 100],
                    "labels": false, "title": null, "grid": false,
                    "tickSize": {"condition": {"test": "datum.value === 1 || datum.value === 10 || datum.value === 100", "value": 17}, "value": 9}}},
                "x2": {"field": "hi"},
                "y": {"field": "h", "type": "quantitative", "scale": {"domain": [2000, 16000], "nice": false, "zero": false},
                  "axis": {"orient": "right", "values": [2000, 3000, 4000, 5000, 6000, 7000, 8000, 9000, 10000, 11000, 12000, 13000, 14000, 15000, 16000],
                    "labels": false, "title": null, "grid": false,
                    "tickSize": {"condition": {"test": "datum.value % 2000 === 0", "value": -15}, "value": -8}}}
              }
            },
            {
              "data": {"name": "c_err"},
              "mark": {"type": "tick", "orient": "vertical", "color": "black", "size": 15, "thickness": 2.5},
              "encoding": {
                "x": {"field": "lo", "type": "quantitative", "scale": {"type": "log", "domain": [1, 100], "nice": false}, "axis": null},
                "y": {"field": "h", "type": "quantitative", "scale": {"domain": [2000, 16000], "nice": false, "zero": false}, "axis": null}
              }
            },
            {
              "data": {"name": "c_err"},
              "mark": {"type": "tick", "orient": "vertical", "color": "black", "size": 15, "thickness": 2.5},
              "encoding": {
                "x": {"field": "hi", "type": "quantitative", "scale": {"type": "log", "domain": [1, 100], "nice": false}, "axis": null},
                "y": {"field": "h", "type": "quantitative", "scale": {"domain": [2000, 16000], "nice": false, "zero": false}, "axis": null}
              }
            },
            {
              "data": {"values": [{}]},
              "mark": {"type": "text", "text": "(c)", "align": "right", "baseline": "alphabetic", "fontSize": 30, "fontWeight": "bold", "color": "black"},
              "encoding": {
                "x": {"datum": 91, "type": "quantitative", "scale": {"type": "log", "domain": [1, 100], "nice": false}, "axis": null},
                "y": {"datum": 15350, "type": "quantitative", "scale": {"domain": [2000, 16000], "nice": false, "zero": false}, "axis": null}
              }
            }
          ],
          "resolve": {"axis": {"x": "independent", "y": "independent"}}
        }
      ],
      "spacing": 86,
      "bounds": "flush",
      "resolve": {"scale": {"color": "independent"}, "legend": {"color": "independent"}}
    }
  ],
  "spacing": 74,
  "bounds": "flush",
  "resolve": {"scale": {"color": "independent"}, "legend": {"color": "independent"}}
}
